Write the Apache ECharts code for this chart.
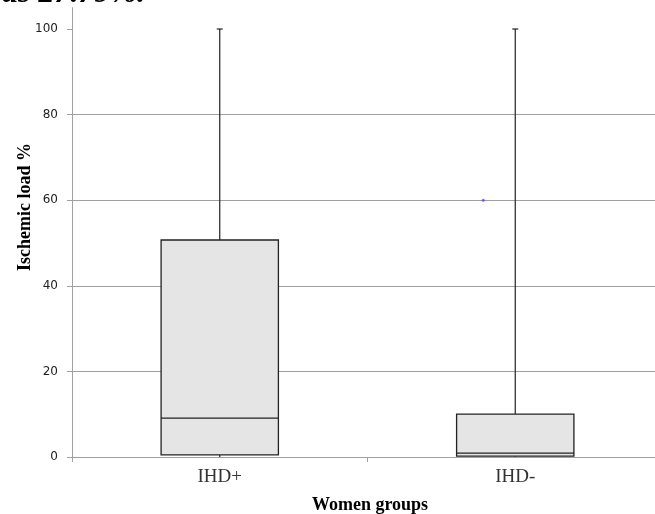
<!DOCTYPE html>
<html>
<head>
<meta charset="utf-8">
<script src="https://cdn.jsdelivr.net/npm/echarts@6/dist/echarts.min.js"></script>
<style>html,body{margin:0;padding:0;background:#fff}#chart{width:655px;height:514px}</style>
</head>
<body>
<div id="chart"></div>
<script>
// Data
const categories = ['IHD+', 'IHD-'];
const whiskerMin = [0, 0];
const q1Values = [0.5, 0.2];
const medianValues = [9.1, 0.9];
const q3Values = [50.7, 10.0];
const whiskerMax = [100, 100];
const outliers = [['IHD-', 60]];
const yTicks = [0, 20, 40, 60, 80, 100];
const xTitle = 'Women groups';
const yTitle = 'Ischemic load %';
const headerText = 'as 27.79%.';

const boxData = categories.map((c, i) => [i, whiskerMin[i], q1Values[i], medianValues[i], q3Values[i], whiskerMax[i]]);

const chart = echarts.init(document.getElementById('chart'), null, {renderer: 'canvas'});

function renderBox(params, api) {
  const idx = api.value(0);
  const pMin = api.coord([idx, api.value(1)]);
  const pQ1 = api.coord([idx, api.value(2)]);
  const pMed = api.coord([idx, api.value(3)]);
  const pQ3 = api.coord([idx, api.value(4)]);
  const pMax = api.coord([idx, api.value(5)]);
  const band = api.size([1, 0])[0];
  const bw = band * 0.397;
  const cx = pMed[0];
  const capW = 3;
  const lineStyle = {stroke: '#222', lineWidth: 1.2};
  return {
    type: 'group',
    children: [
      {type: 'line', shape: {x1: cx, y1: pMax[1], x2: cx, y2: pQ3[1]}, style: lineStyle},
      {type: 'line', shape: {x1: cx - capW, y1: pMax[1], x2: cx + capW, y2: pMax[1]}, style: lineStyle},
      {type: 'line', shape: {x1: cx, y1: pQ1[1], x2: cx, y2: pMin[1]}, style: lineStyle},
      {type: 'rect', shape: {x: cx - bw / 2, y: pQ3[1], width: bw, height: pQ1[1] - pQ3[1]},
        style: {fill: '#e5e5e5', stroke: '#222', lineWidth: 1.3}},
      {type: 'line', shape: {x1: cx - bw / 2, y1: pMed[1], x2: cx + bw / 2, y2: pMed[1]}, style: {stroke: '#222', lineWidth: 1.3}}
    ]
  };
}

const option = {
  animation: false,
  backgroundColor: '#fff',
  grid: {left: 72, width: 591, top: 7.6, bottom: 57, containLabel: false, outerBoundsMode: 'none'},
  xAxis: {
    type: 'category',
    data: categories,
    boundaryGap: true,
    axisLine: {lineStyle: {color: '#a0a0a0', width: 1}},
    axisTick: {show: true, alignWithLabel: false, length: 5, lineStyle: {color: '#a0a0a0'}},
    axisLabel: {fontFamily: 'Liberation Serif', fontSize: 19, color: '#333', margin: 11},
    splitLine: {show: false}
  },
  yAxis: {
    type: 'value',
    min: 0,
    max: 105,
    interval: 20,
    axisLine: {show: true, lineStyle: {color: '#a0a0a0', width: 1}},
    axisTick: {show: true, length: 5, customValues: yTicks, lineStyle: {color: '#a0a0a0'}},
    axisLabel: {customValues: yTicks, fontFamily: 'DejaVu Sans', fontSize: 12, color: '#222', margin: 14},
    splitLine: {show: true, showMaxLine: false, lineStyle: {color: '#a0a0a0', width: 1}}
  },
  graphic: [
    {type: 'text', left: 2, top: -22, z: 10,
      style: {text: headerText, font: 'italic bold 32px "Liberation Serif"', fill: '#000'}},
    {type: 'text', x: 370, y: 505, z: 10,
      style: {text: xTitle, font: 'bold 18px "Liberation Serif"', fill: '#000', align: 'center', verticalAlign: 'middle'}},
    {type: 'text', x: 25, y: 207, rotation: Math.PI / 2, z: 10,
      style: {text: yTitle, font: 'bold 18px "Liberation Serif"', fill: '#000', align: 'center', verticalAlign: 'middle'}}
  ],
  series: [
    {type: 'custom', renderItem: renderBox, data: boxData, encode: {x: 0, y: [1, 2, 3, 4, 5]}, z: 3},
    {type: 'scatter', data: outliers, symbol: 'circle', symbolSize: 3, symbolOffset: [-32, 0],
      itemStyle: {color: '#4a4aff'}, z: 4}
  ]
};
chart.setOption(option);
</script>
</body>
</html>
